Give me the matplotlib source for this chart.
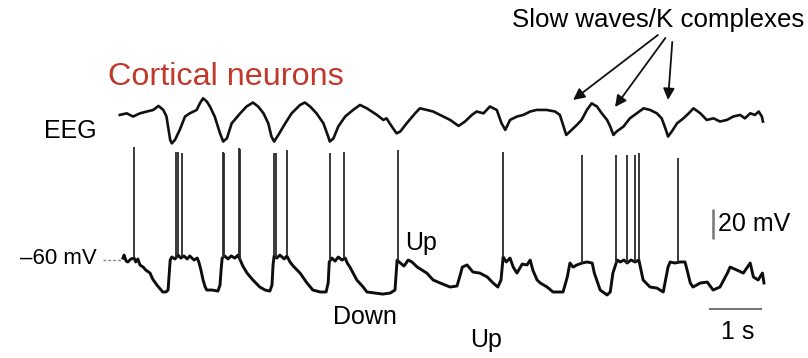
import numpy as np
import matplotlib
matplotlib.use("Agg")
import matplotlib.pyplot as plt

plt.rcParams['font.family'] = ['Liberation Sans', 'DejaVu Sans']

# Intracellular membrane potential (time in s, Vm in mV)
vm_t = [0.02, 0.04, 0.08, 0.11, 0.17, 0.23, 0.26, 0.30, 0.34, 0.40, 0.45, 0.53, 0.58, 0.66,
        0.74, 0.77, 0.83, 0.87, 0.89, 0.91, 0.94, 1.00, 1.06, 1.11, 1.17, 1.23, 1.28, 1.36,
        1.42, 1.45, 1.49, 1.53, 1.57, 1.60, 1.70, 1.81, 1.85, 1.87, 1.89, 1.94, 2.00, 2.06,
        2.13, 2.19, 2.23, 2.28, 2.36, 2.47, 2.60, 2.70, 2.79, 2.83, 2.85, 2.87, 2.92, 2.98,
        3.06, 3.11, 3.17, 3.23, 3.36, 3.49, 3.60, 3.74, 3.85, 3.89, 3.91, 3.96, 4.02, 4.08,
        4.15, 4.21, 4.25, 4.30, 4.43, 4.55, 4.62, 4.77, 4.92, 5.06, 5.15, 5.17, 5.19, 5.25,
        5.32, 5.40, 5.47, 5.57, 5.75, 5.87, 6.00, 6.19, 6.32, 6.38, 6.42, 6.51, 6.62, 6.75,
        6.89, 7.00, 7.09, 7.15, 7.19, 7.25, 7.32, 7.38, 7.45, 7.55, 7.64, 7.70, 7.75, 7.83,
        7.89, 8.02, 8.13, 8.32, 8.40, 8.45, 8.51, 8.58, 8.68, 8.77, 8.87, 8.91, 9.02, 9.15,
        9.21, 9.26, 9.34, 9.40, 9.47, 9.53, 9.60, 9.68, 9.75, 9.83, 9.96, 10.09, 10.21, 10.30,
        10.34, 10.43, 10.53, 10.62, 10.66, 10.72, 10.77, 10.91, 11.04, 11.15, 11.28, 11.42,
        11.47, 11.60, 11.72, 11.85, 11.91, 12.00, 12.08, 12.11]
vm_mv = [-58.7, -56.7, -60.7, -61.3, -59.3, -58.7, -61.3, -59.3, -63.3, -64.7, -66.7, -68.7,
         -72.7, -76.7, -80.0, -81.3, -81.3, -80.0, -70.0, -60.0, -58.0, -59.3, -56.7, -58.7,
         -57.3, -59.3, -57.3, -60.0, -58.7, -61.3, -66.7, -73.3, -78.0, -80.0, -80.0, -80.7,
         -76.7, -66.7, -58.7, -57.3, -59.3, -57.3, -58.7, -56.7, -60.0, -64.0, -68.7, -73.3,
         -78.0, -80.0, -80.7, -76.7, -63.3, -57.3, -58.7, -56.7, -59.3, -57.3, -61.3, -64.0,
         -68.7, -75.3, -80.0, -81.3, -81.3, -75.3, -61.3, -58.7, -60.7, -58.0, -60.0, -58.7,
         -62.0, -64.7, -73.3, -78.0, -81.3, -82.0, -82.7, -82.0, -80.0, -70.0, -60.0, -62.0,
         -64.0, -60.0, -61.3, -64.7, -68.7, -73.3, -75.3, -78.0, -77.3, -70.0, -64.7, -63.3,
         -68.0, -68.7, -71.3, -75.3, -78.0, -73.3, -58.0, -61.3, -58.7, -64.7, -68.7, -62.7,
         -63.3, -60.0, -66.7, -73.3, -75.3, -78.0, -81.3, -81.3, -71.3, -62.0, -64.7, -63.3,
         -62.0, -61.3, -62.0, -68.7, -80.0, -83.3, -81.3, -68.7, -60.0, -61.3, -60.0, -62.0,
         -60.0, -61.3, -60.0, -73.3, -78.0, -78.7, -81.3, -64.7, -61.3, -62.0, -61.3, -61.3,
         -66.7, -75.3, -78.0, -75.3, -74.7, -80.0, -78.0, -68.7, -64.7, -66.7, -68.7, -62.0,
         -71.3, -73.3, -68.7, -75.3]

# Action potentials: time (s) and peak (mV)
spike_t = [0.23, 1.02, 1.06, 1.13, 1.90, 1.92, 2.20, 2.23, 2.87, 2.91, 3.11, 3.92, 4.19,
           5.21, 7.19, 8.68, 9.32, 9.53, 9.68, 9.75, 10.49]
spike_peak = [15.3, 12.0, 12.0, 11.3, 12.0, 11.3, 14.7, 14.0, 11.3, 11.3, 13.3, 11.3, 12.0,
              13.3, 12.0, 10.0, 10.0, 10.0, 10.0, 11.3, 8.0]

# Surface EEG (time in s, amplitude in µV)
eeg_t = [-0.04, 0.09, 0.21, 0.34, 0.47, 0.59, 0.69, 0.78, 0.84, 0.91, 0.94, 1.00, 1.09, 1.19,
         1.28, 1.41, 1.47, 1.53, 1.60, 1.66, 1.75, 1.85, 1.91, 1.98, 2.07, 2.23, 2.35, 2.47,
         2.57, 2.67, 2.76, 2.82, 2.87, 2.95, 3.08, 3.20, 3.36, 3.45, 3.55, 3.67, 3.80, 3.89,
         3.92, 3.99, 4.08, 4.21, 4.36, 4.49, 4.62, 4.81, 4.93, 4.99, 5.09, 5.18, 5.25, 5.37,
         5.53, 5.62, 5.75, 5.87, 6.00, 6.19, 6.35, 6.47, 6.60, 6.69, 6.82, 6.94, 7.07, 7.16,
         7.23, 7.32, 7.45, 7.57, 7.70, 7.82, 8.01, 8.17, 8.26, 8.33, 8.38, 8.45, 8.58, 8.67,
         8.77, 8.86, 8.96, 9.05, 9.15, 9.21, 9.27, 9.33, 9.46, 9.58, 9.71, 9.84, 9.96, 10.09,
         10.18, 10.25, 10.30, 10.37, 10.47, 10.59, 10.69, 10.78, 10.91, 11.03, 11.16, 11.28,
         11.41, 11.53, 11.66, 11.75, 11.85, 11.94, 12.01, 12.07, 12.09]
eeg_uv = [0, 8, -8, 8, 17, 25, 45, 25, -8, -125, -142, -125, -75, -8, 8, 25, 58, 83, 67, 42,
          -8, -92, -133, -117, -42, 8, 42, 62, 42, 8, -42, -108, -133, -100, -42, 8, 50, 62,
          42, 8, -42, -108, -133, -117, -58, -8, 25, 50, 33, 0, -25, -17, -58, -92, -83, -42,
          8, 33, 25, 17, 0, -25, -55, -33, 0, 17, 8, 42, 25, -42, -75, -25, -8, 0, 17, 25, 25,
          17, 0, -58, -100, -83, -50, -25, 25, 58, 42, 8, -25, -58, -100, -83, -58, -17, 8, 33,
          25, 8, -17, -67, -108, -83, -42, -17, 8, 33, 8, -25, -17, -33, -25, -8, 0, -17, 8, 0,
          17, -8, -33]

# K-complex arrow tips (time in s)
kc_t = [8.51, 9.30, 10.30]

EEG_OFFSET = 36.7   # vertical placement of the EEG trace (display mV)
EEG_GAIN = 0.1333   # display mV per µV
REST_MV = -60

fig = plt.figure(figsize=(8.08, 3.58), dpi=100)
ax = fig.add_axes([0, 0, 1, 1])
ax.set_xlim(-2.30, 12.94)
ax.set_ylim(-125.3, 113.3)
ax.axis('off')

# EEG
eeg_disp = EEG_OFFSET + EEG_GAIN * np.asarray(eeg_uv, float)
ax.plot(eeg_t, eeg_disp, color='#111111', lw=1.9, solid_joinstyle='round')

# Membrane potential and spikes
ax.plot(vm_t, vm_mv, color='#0d0d0d', lw=2.1, solid_joinstyle='round')
spike_base = np.interp(spike_t, vm_t, vm_mv)
ax.vlines(spike_t, spike_base, spike_peak, color='#2a2a2a', lw=1.3)

# -60 mV reference
ax.plot([-0.36, 0.0], [REST_MV, REST_MV], color='#888888', lw=1.0, ls=(0, (2, 1.5)))

# Scale bars
ax.plot([11.15, 11.15], [-46, -26], color='#777777', lw=1.8, solid_capstyle='butt')
ax.plot([11.08, 12.08], [-92.7, -92.7], color='#777777', lw=1.5, solid_capstyle='butt')

fs = 18
ax.text(11.25, -36, '20 mV', fontsize=fs, va='center', ha='left')
ax.text(11.62, -108, '1 s', fontsize=fs, va='center', ha='center')
ax.text(-0.47, -59.3, '\u201360 mV', fontsize=16, va='center', ha='right')
ax.text(-0.98, 26, 'EEG', fontsize=18, va='center', ha='center')
ax.text(-0.26, 62, 'Cortical neurons', fontsize=23.3, color='#c0392b', va='center', ha='left')
ax.text(5.34, -48.7, 'Up', fontsize=fs, va='center', ha='left')
ax.text(3.98, -98, 'Down', fontsize=fs, va='center', ha='left')
ax.text(6.57, -113.3, 'Up', fontsize=fs, va='center', ha='left')
ax.text(7.36, 100, 'Slow waves/K complexes', fontsize=18.6, va='center', ha='left')

# Arrows to the K complexes
tails = [(10.11, 90), (10.25, 88), (10.38, 85.3)]
tip_v = [46.7, 42, 46.7]
for (tx, tv), hx, hv in zip(tails, kc_t, tip_v):
    ax.annotate('', xy=(hx, hv), xytext=(tx, tv),
                arrowprops=dict(arrowstyle='-|>', color='#111111', lw=1.3,
                                mutation_scale=17, shrinkA=0, shrinkB=0))

fig.savefig('out.png', dpi=100)
